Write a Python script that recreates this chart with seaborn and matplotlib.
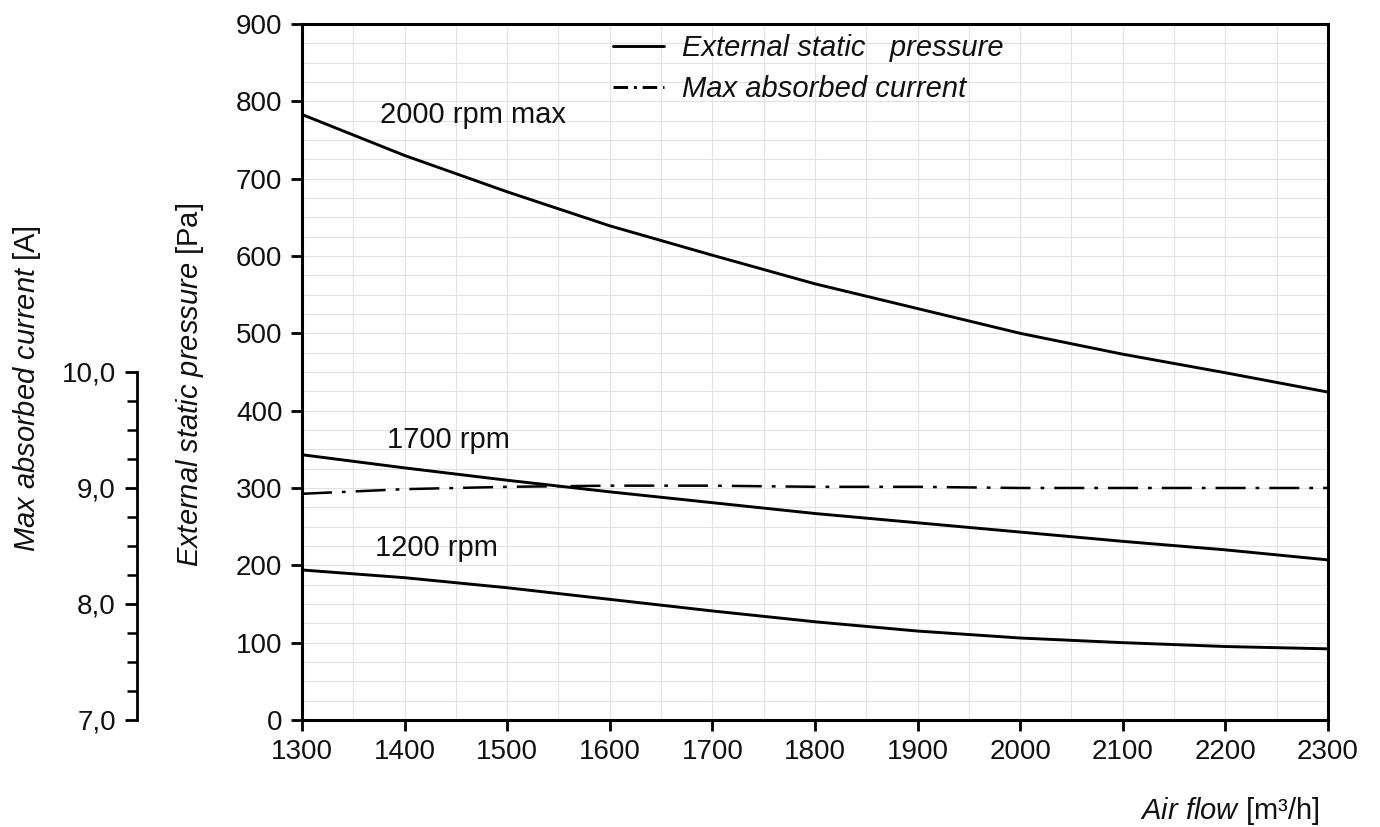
import numpy as np
import pandas as pd
import matplotlib
matplotlib.use("Agg")
import matplotlib.pyplot as plt
from matplotlib.lines import Line2D
from matplotlib.ticker import MultipleLocator, FuncFormatter
import seaborn as sns

# values
air_flow = [1300, 1400, 1500, 1600, 1700, 1800, 1900, 2000, 2100, 2200, 2300]
p_2000rpm = [783, 730, 683, 639, 601, 564, 532, 500, 473, 449, 424]
p_1700rpm = [343, 326, 310, 295, 281, 267, 255, 243, 231, 220, 207]
p_1200rpm = [194, 184, 171, 156, 141, 127, 115, 106, 100, 95, 92]
max_current = [8.95, 8.99, 9.01, 9.02, 9.02, 9.01, 9.01, 9.0, 9.0, 9.0, 9.0]

curve_labels = ["2000 rpm max", "1700 rpm", "1200 rpm"]
label_pos = [(1467, 782), (1443, 362), (1431, 222)]

df = pd.DataFrame({
    "air_flow": air_flow * 3,
    "pressure": p_2000rpm + p_1700rpm + p_1200rpm,
    "speed": [curve_labels[0]] * 11 + [curve_labels[1]] * 11 + [curve_labels[2]] * 11,
})

sns.set_theme(style="white")
plt.rcParams["font.family"] = ["Liberation Sans", "DejaVu Sans"]
plt.rcParams["mathtext.fontset"] = "custom"
plt.rcParams["mathtext.rm"] = "Liberation Sans"
plt.rcParams["mathtext.it"] = "Liberation Sans:italic"

fs = 21
tfs = 20
fig, ax = plt.subplots(figsize=(13.8, 8.27), dpi=100)
fig.subplots_adjust(left=0.2188, right=0.9623, top=0.971, bottom=0.1294)

sns.lineplot(data=df, x="air_flow", y="pressure", units="speed", estimator=None,
             color="black", linewidth=2.1, ax=ax, legend=False)

ax.set_xlim(1300, 2300)
ax.set_ylim(0, 900)
ax.xaxis.set_major_locator(MultipleLocator(100))
ax.xaxis.set_minor_locator(MultipleLocator(50))
ax.yaxis.set_major_locator(MultipleLocator(100))
ax.yaxis.set_minor_locator(MultipleLocator(25))
ax.grid(which="both", color="#e2e2e2", linewidth=0.8)
ax.tick_params(which="major", direction="out", length=8, width=2, color="black",
               labelsize=tfs, labelcolor="#111111", pad=6, left=True, bottom=True)
ax.tick_params(which="minor", length=0)
for s in ax.spines.values():
    s.set_color("black")
    s.set_linewidth(2.2)

for txt, (x, y) in zip(curve_labels, label_pos):
    ax.text(x, y, txt, fontsize=fs, ha="center", va="center", color="#111111")

ax.set_xlabel(r"$\it{Air\ flow}$ [m³/h]", fontsize=fs, loc="right", color="#111111")
ax.set_ylabel(r"$\it{External\ static\ pressure}$ [Pa]", fontsize=fs, color="#111111")
ax.yaxis.set_label_coords(-0.0935, 0.481)
ax.xaxis.set_label_coords(0.992, -0.108)

# current axis, sharing the plot area but drawn on an offset left spine
ax2 = ax.twinx()
sns.lineplot(x=air_flow, y=max_current, ax=ax2, color="black", linewidth=1.8,
             linestyle=(0, (12, 4, 1.5, 4)))
ax2.set_ylim(7, 13)
ax2.grid(False)
for side in ["right", "top", "bottom"]:
    ax2.spines[side].set_visible(False)
ax2.spines["left"].set_visible(True)
ax2.spines["left"].set_position(("axes", -0.161))
ax2.spines["left"].set_bounds(7, 10)
ax2.spines["left"].set_linewidth(2)
ax2.spines["left"].set_color("black")
ax2.yaxis.set_ticks_position("left")
ax2.yaxis.set_label_position("left")
ax2.set_yticks([7, 8, 9, 10])
ax2.yaxis.set_major_formatter(FuncFormatter(lambda v, p: f"{v:.1f}".replace(".", ",")))
ax2.set_yticks([v for v in np.arange(7, 10.01, 0.25) if v % 1 != 0], minor=True)
ax2.tick_params(which="major", direction="out", length=9, width=2, color="black",
                labelsize=tfs, labelcolor="#111111", pad=6)
ax2.tick_params(which="minor", direction="out", length=7, width=1.8, color="black")
ax2.set_ylabel(r"$\it{Max\ absorbed\ current}$ [A]", fontsize=fs, color="#111111")
ax2.yaxis.set_label_coords(-0.252, 0.476)

handles = [
    Line2D([], [], color="black", linewidth=2.1),
    Line2D([], [], color="black", linewidth=2.1, linestyle=(0, (5, 2, 1, 2))),
]
leg = ax.legend(handles, ["External static   pressure", "Max absorbed current"],
                loc="upper left", bbox_to_anchor=(0.278, 1.023), frameon=False,
                fontsize=fs, handlelength=1.75, handletextpad=0.6, labelspacing=0.45)
for t in leg.get_texts():
    t.set_fontstyle("italic")
    t.set_color("#111111")

fig.savefig("out.png", dpi=100)
